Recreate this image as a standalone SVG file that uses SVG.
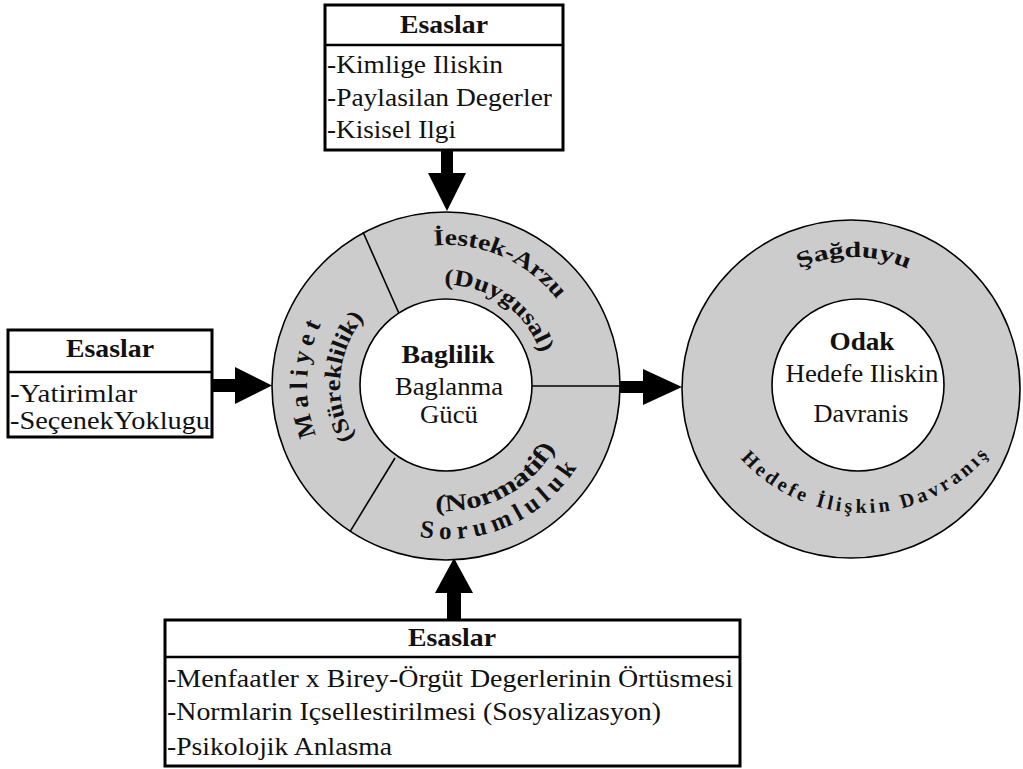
<svg xmlns="http://www.w3.org/2000/svg" width="1023" height="769" viewBox="0 0 1023 769">
<style>
.box{fill:#fff;stroke:#000;stroke-width:3}
.dv{stroke:#000;stroke-width:2.5}
text{font-family:'Liberation Serif','Times New Roman',Times,serif;fill:#111}
.t{font-size:25px}
.b{font-weight:bold}
.ring{fill:#cccccc;stroke:#000;stroke-width:1.6}
.inner{fill:#fff;stroke:#000;stroke-width:1.6}
.sep{stroke:#000;stroke-width:1.6;fill:none}
.arc{font-weight:bold;font-size:25px}
.ar{fill:#000}
</style>
<defs>
<path id="pIstek" d="M 433.8 245.5 A 140 140 0 0 1 559.3 302.7"/>
<path id="pDuy" d="M 444.3 285 A 100 100 0 0 1 541.1 355.1"/>
<path id="pMal" d="M 316.3 435 A 139 139 0 0 1 323.3 319.7"/>
<path id="pSur" d="M 354.2 438 A 106 106 0 0 1 366 315.5"/>
<path id="pNor" d="M 435 510.5 A 126 126 0 0 0 557.3 444.2"/>
<path id="pSor" d="M 419.3 536.7 A 154 154 0 0 0 579.4 463"/>
<path id="pSag" d="M 799.3 268.4 A 132 132 0 0 1 910.9 270.4"/>
<path id="pHed" d="M 740.4 458.4 A 165 165 0 0 0 991.2 451.8"/>
</defs>

<g id="connectors">
<polygon class="ar" points="441,150 453,150 453,173 466,173 447,211 428,173 441,173"/>
<polygon class="ar" points="212,379 235,379 235,367 272,385.5 235,404 235,392 212,392"/>
<polygon class="ar" points="620,381 643,381 643,369 682,387 643,405 643,393 620,393"/>
<polygon class="ar" points="447,620 447,593 435,593 454,558 473,593 461,593 461,620"/>
</g>

<g id="box-top">
<rect class="box" x="325" y="5" width="238" height="145"/>
<line class="dv" x1="325" y1="45" x2="563" y2="45"/>
<text class="t b" x="444" y="33" text-anchor="middle" textLength="88" lengthAdjust="spacingAndGlyphs">Esaslar</text>
<text class="t" x="327" y="73" textLength="176" lengthAdjust="spacingAndGlyphs">-Kimlige Iliskin</text>
<text class="t" x="327" y="106" textLength="225" lengthAdjust="spacingAndGlyphs">-Paylasilan Degerler</text>
<text class="t" x="327" y="138" textLength="129" lengthAdjust="spacingAndGlyphs">-Kisisel Ilgi</text>
</g>

<g id="box-left">
<rect class="box" x="8" y="330" width="204" height="107"/>
<line class="dv" x1="8" y1="372" x2="212" y2="372"/>
<text class="t b" x="110" y="357" text-anchor="middle" textLength="88" lengthAdjust="spacingAndGlyphs">Esaslar</text>
<text class="t" x="10" y="402" textLength="127" lengthAdjust="spacingAndGlyphs">-Yatirimlar</text>
<text class="t" x="10" y="429" textLength="200" lengthAdjust="spacingAndGlyphs">-SeçenekYoklugu</text>
</g>

<g id="box-bottom">
<rect class="box" x="165" y="620" width="575" height="146"/>
<line class="dv" x1="165" y1="657" x2="740" y2="657"/>
<text class="t b" x="452" y="646" text-anchor="middle" textLength="88" lengthAdjust="spacingAndGlyphs">Esaslar</text>
<text class="t" x="167" y="687" textLength="566" lengthAdjust="spacingAndGlyphs">-Menfaatler x Birey-Örgüt Degerlerinin Örtüsmesi</text>
<text class="t" x="167" y="720" textLength="494" lengthAdjust="spacingAndGlyphs">-Normlarin Içsellestirilmesi (Sosyalizasyon)</text>
<text class="t" x="167" y="755" textLength="225" lengthAdjust="spacingAndGlyphs">-Psikolojik Anlasma</text>
</g>

<g id="circle-baglilik">
<circle class="ring" cx="446" cy="386" r="174"/>
<line class="sep" x1="363" y1="232" x2="398.8" y2="313"/>
<line class="sep" x1="395" y1="458" x2="350.2" y2="531.3"/>
<line class="sep" x1="532" y1="386" x2="620" y2="386"/>
<circle class="inner" cx="446" cy="385" r="86"/>
<text class="arc" style="font-size:23px"><textPath href="#pIstek" textLength="140" lengthAdjust="spacingAndGlyphs">İestek-Arzu</textPath></text>
<text class="arc" style="font-size:23px"><textPath href="#pDuy" textLength="126" lengthAdjust="spacingAndGlyphs">(Duygusal)</textPath></text>
<text class="arc"><textPath href="#pMal" textLength="114" lengthAdjust="spacing">Maliyet</textPath></text>
<text class="arc" style="font-size:23px"><textPath href="#pSur" textLength="128" lengthAdjust="spacingAndGlyphs">(Süreklilik)</textPath></text>
<text class="arc" style="font-size:24px"><textPath href="#pNor" textLength="143" lengthAdjust="spacingAndGlyphs">(Normatif)</textPath></text>
<text class="arc"><textPath href="#pSor" textLength="182" lengthAdjust="spacing">Sorumluluk</textPath></text>
<text class="t b" x="448" y="363" text-anchor="middle" textLength="93" lengthAdjust="spacingAndGlyphs">Baglilik</text>
<text class="t" x="449" y="395" text-anchor="middle" textLength="108" lengthAdjust="spacingAndGlyphs">Baglanma</text>
<text class="t" x="449" y="423" text-anchor="middle" textLength="58" lengthAdjust="spacingAndGlyphs">Gücü</text>
</g>

<g id="circle-odak">
<circle class="ring" cx="851" cy="389" r="169"/>
<circle class="inner" cx="858" cy="385" r="86"/>
<text class="arc" style="font-size:22px"><textPath href="#pSag" textLength="112" lengthAdjust="spacingAndGlyphs">Şağduyu</textPath></text>
<text class="arc" style="font-size:20px"><textPath href="#pHed" textLength="280" lengthAdjust="spacing">Hedefe İlişkin Davranış</textPath></text>
<text class="t b" x="862" y="350" text-anchor="middle" textLength="65" lengthAdjust="spacingAndGlyphs">Odak</text>
<text class="t" x="862" y="382" text-anchor="middle" textLength="153" lengthAdjust="spacingAndGlyphs">Hedefe Iliskin</text>
<text class="t" x="861" y="422" text-anchor="middle" textLength="95" lengthAdjust="spacingAndGlyphs">Davranis</text>
</g>
</svg>
